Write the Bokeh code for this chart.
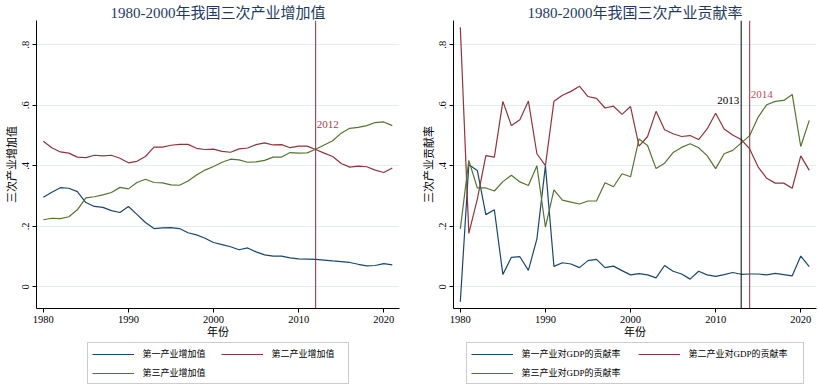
from bokeh.plotting import figure
from bokeh.layouts import row, column
from bokeh.models import Span, Label, Legend, LegendItem, FixedTicker, Range1d
from bokeh.embed import file_html
from bokeh.resources import INLINE

years = list(range(1980, 2022))

# 三次产业增加值占比
va_primary = [0.296, 0.313, 0.328, 0.326, 0.315, 0.279, 0.266, 0.263, 0.252, 0.246,
              0.266, 0.240, 0.213, 0.193, 0.195, 0.196, 0.193, 0.179, 0.172, 0.161,
              0.147, 0.140, 0.133, 0.123, 0.129, 0.116, 0.106, 0.102, 0.102, 0.096,
              0.093, 0.092, 0.091, 0.089, 0.086, 0.084, 0.081, 0.075, 0.070, 0.071,
              0.077, 0.073]
va_secondary = [0.481, 0.460, 0.446, 0.442, 0.429, 0.427, 0.435, 0.433, 0.435, 0.425,
                0.410, 0.415, 0.431, 0.462, 0.462, 0.468, 0.471, 0.471, 0.458, 0.454,
                0.455, 0.448, 0.445, 0.456, 0.459, 0.470, 0.476, 0.469, 0.470, 0.460,
                0.465, 0.465, 0.454, 0.442, 0.431, 0.408, 0.396, 0.399, 0.397, 0.386,
                0.378, 0.393]
va_tertiary = [0.222, 0.227, 0.226, 0.232, 0.255, 0.294, 0.298, 0.304, 0.312, 0.329,
               0.324, 0.345, 0.356, 0.345, 0.344, 0.337, 0.336, 0.350, 0.370, 0.386,
               0.398, 0.412, 0.422, 0.420, 0.412, 0.413, 0.418, 0.429, 0.429, 0.444,
               0.442, 0.443, 0.455, 0.469, 0.483, 0.508, 0.524, 0.527, 0.533, 0.543,
               0.545, 0.533]

# 三次产业对GDP的贡献率
cr_primary = [-0.049, 0.404, 0.385, 0.239, 0.255, 0.041, 0.098, 0.100, 0.055, 0.159,
              0.400, 0.068, 0.080, 0.076, 0.064, 0.087, 0.091, 0.064, 0.069, 0.054,
              0.040, 0.044, 0.040, 0.030, 0.071, 0.052, 0.043, 0.026, 0.052, 0.040,
              0.035, 0.041, 0.048, 0.042, 0.043, 0.043, 0.040, 0.045, 0.041, 0.037,
              0.102, 0.067]
cr_secondary = [0.858, 0.177, 0.290, 0.434, 0.429, 0.613, 0.533, 0.552, 0.614, 0.440,
                0.401, 0.613, 0.633, 0.646, 0.663, 0.629, 0.623, 0.591, 0.597, 0.570,
                0.596, 0.465, 0.497, 0.580, 0.519, 0.506, 0.497, 0.500, 0.487, 0.522,
                0.574, 0.522, 0.502, 0.487, 0.456, 0.396, 0.359, 0.343, 0.343, 0.326,
                0.433, 0.385]
cr_tertiary = [0.192, 0.418, 0.327, 0.327, 0.317, 0.348, 0.369, 0.347, 0.335, 0.400,
               0.198, 0.321, 0.287, 0.280, 0.274, 0.284, 0.284, 0.344, 0.331, 0.374,
               0.364, 0.489, 0.467, 0.391, 0.409, 0.444, 0.461, 0.473, 0.460, 0.434,
               0.391, 0.440, 0.451, 0.475, 0.500, 0.561, 0.602, 0.613, 0.616, 0.636,
               0.464, 0.550]

x_ticks = [1980, 1990, 2000, 2010, 2020]
y_ticks = [0, 0.2, 0.4, 0.6, 0.8]
y_tick_labels = ["0", ".2", ".4", ".6", ".8"]

left_title = "1980-2000年我国三次产业增加值"
right_title = "1980-2000年我国三次产业贡献率"
left_ylabel = "三次产业增加值"
right_ylabel = "三次产业贡献率"
xlabel = "年份"
left_labels = ["第一产业增加值", "第二产业增加值", "第三产业增加值"]
right_labels = ["第一产业对GDP的贡献率", "第二产业对GDP的贡献率", "第三产业对GDP的贡献率"]

FONT = "Liberation Serif, Noto Sans CJK SC"
NUMFONT = "Liberation Serif"
NAVY = "#1a476f"
MAROON = "#90353b"
GREEN = "#55752f"
COLORS = [NAVY, MAROON, GREEN]
SPAN_RED = "#8e2f3c"


def make_fig(title, ylabel, series, width, border_left, border_right):
    p = figure(width=width, height=342, output_backend="svg", toolbar_location=None,
               x_range=Range1d(1979.2, 2021.85), y_range=Range1d(-0.071, 0.88),
               min_border_left=border_left, min_border_right=border_right,
               min_border_top=20, min_border_bottom=34)
    p.title.text = title
    p.title.align = "center"
    p.title.text_font = FONT
    p.title.text_font_size = "15px"
    p.title.text_font_style = "normal"
    p.title.text_color = "#1e3a5f"
    p.title.standoff = 0
    p.outline_line_color = None
    p.background_fill_color = "white"
    p.border_fill_color = "white"

    p.xgrid.visible = False
    p.ygrid.ticker = FixedTicker(ticks=y_ticks)
    p.ygrid.grid_line_color = "#e4eded"
    p.ygrid.grid_line_width = 1

    p.xaxis.ticker = FixedTicker(ticks=x_ticks)
    p.yaxis.ticker = FixedTicker(ticks=y_ticks)
    p.yaxis.major_label_overrides = {t: s for t, s in zip(y_ticks, y_tick_labels)}
    p.yaxis.major_label_orientation = "vertical"
    for ax in (p.xaxis, p.yaxis):
        ax.axis_line_color = "black"
        ax.major_tick_line_color = "black"
        ax.minor_tick_line_color = None
        ax.major_tick_out = 4
        ax.major_tick_in = 0
        ax.major_label_text_font = NUMFONT
        ax.major_label_text_font_size = "10.5px"
        ax.major_label_text_color = "black"
        ax.axis_label_text_font = FONT
        ax.axis_label_text_font_size = "11px"
        ax.axis_label_text_font_style = "normal"
        ax.axis_label_text_color = "black"
    p.xaxis.major_label_standoff = 3
    p.xaxis.axis_label_standoff = 0
    p.yaxis.major_label_standoff = 3
    p.yaxis.axis_label_standoff = 2
    p.xaxis.axis_label = xlabel
    p.yaxis.axis_label = ylabel

    for vals, c in zip(series, COLORS):
        p.line(years, vals, line_color=c, line_width=1.2)
    return p


def make_legend_fig(labels, series, width, border_left, border_right, label_width):
    # legend-only panel: the same series are drawn outside its (empty) view
    q = figure(width=width, height=42, output_backend="svg", toolbar_location=None,
               x_axis_type=None, y_axis_type=None,
               x_range=Range1d(0, 1), y_range=Range1d(0, 1),
               min_border_left=border_left, min_border_right=border_right,
               min_border_top=0, min_border_bottom=0)
    q.outline_line_color = None
    q.xgrid.visible = False
    q.ygrid.visible = False
    rs = [q.line(years, vals, line_color=c, line_width=1.2) for vals, c in zip(series, COLORS)]
    items = [LegendItem(label=l, renderers=[r]) for l, r in zip(labels, rs)]
    leg = Legend(items=items, orientation="horizontal", ncols=2, location="center",
                 label_text_font=FONT, label_text_font_size="9px", label_text_color="black",
                 glyph_width=42, glyph_height=12, label_height=12, label_width=label_width,
                 label_standoff=9, spacing=6, padding=4, margin=0,
                 border_line_color="#999999", border_line_width=1,
                 background_fill_color="white", background_fill_alpha=1)
    q.add_layout(leg, "center")
    return q


va_series = [va_primary, va_secondary, va_tertiary]
cr_series = [cr_primary, cr_secondary, cr_tertiary]

p1 = make_fig(left_title, left_ylabel, va_series, 410, 36, 11)
p1.add_layout(Span(location=2012, dimension="height", line_color=SPAN_RED, line_width=1))
p1.add_layout(Label(x=2012, y=0.537, text="2012", x_offset=1, text_align="left",
                    text_baseline="middle", text_font=NUMFONT, text_font_size="11px",
                    text_color="#a0404f"))

p2 = make_fig(right_title, right_ylabel, cr_series, 409, 43, 3)
p2.add_layout(Span(location=2013, dimension="height", line_color="black", line_width=1))
p2.add_layout(Span(location=2014, dimension="height", line_color=SPAN_RED, line_width=1))
p2.add_layout(Label(x=2013, y=0.616, text="2013", x_offset=-2, text_align="right",
                    text_baseline="middle", text_font=NUMFONT, text_font_size="11px",
                    text_color="black"))
p2.add_layout(Label(x=2014, y=0.636, text="2014", x_offset=1, text_align="left",
                    text_baseline="middle", text_font=NUMFONT, text_font_size="11px",
                    text_color="#b0505c"))

l1 = make_legend_fig(left_labels, va_series, 410, 36, 11, 72)
l2 = make_legend_fig(right_labels, cr_series, 409, 43, 3, 110)

layout = column(row(p1, p2, spacing=0), row(l1, l2, spacing=0), spacing=0)
open("out.html", "w").write(file_html(layout, INLINE))
